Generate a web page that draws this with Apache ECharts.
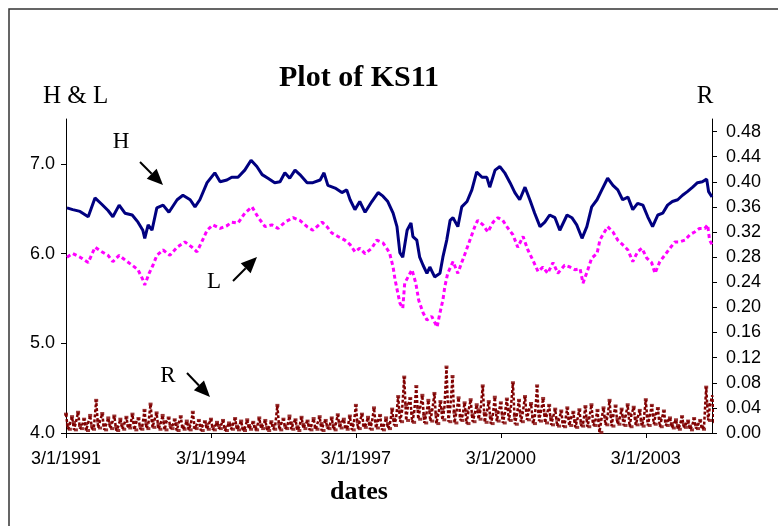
<!DOCTYPE html>
<html>
<head>
<meta charset="utf-8">
<script src="https://cdn.jsdelivr.net/npm/echarts@6/dist/echarts.min.js"></script>
<style>
html,body{margin:0;padding:0;background:#fff;}
#chart{width:778px;height:526px;}
</style>
</head>
<body>
<div id="chart"></div>
<script>
// x values: years since 3/1/1991
var xTickValues = [0, 3, 6, 9, 12];
var xTickLabels = ['3/1/1991', '3/1/1994', '3/1/1997', '3/1/2000', '3/1/2003'];
var leftTicks = [4, 5, 6, 7];
var rightTicks = [0, 0.04, 0.08, 0.12, 0.16, 0.20, 0.24, 0.28, 0.32, 0.36, 0.40, 0.44, 0.48];

var hTime = [0.02,0.14,0.29,0.46,0.60,0.74,0.87,0.97,1.10,1.22,1.37,1.49,1.59,1.63,1.70,1.78,1.88,2.01,2.13,2.30,2.42,2.57,2.67,2.77,2.92,3.08,3.19,3.33,3.43,3.56,3.70,3.83,3.95,4.06,4.18,4.32,4.43,4.53,4.63,4.74,4.84,4.99,5.11,5.26,5.34,5.42,5.57,5.71,5.81,5.88,5.98,6.08,6.19,6.33,6.46,6.56,6.66,6.70,6.77,6.85,6.91,6.97,7.06,7.14,7.18,7.26,7.32,7.39,7.47,7.53,7.63,7.74,7.80,7.88,7.95,8.01,8.11,8.19,8.30,8.40,8.50,8.61,8.71,8.77,8.88,8.98,9.08,9.19,9.29,9.39,9.50,9.60,9.70,9.81,9.91,10.01,10.12,10.22,10.37,10.47,10.57,10.68,10.78,10.88,10.99,11.09,11.21,11.32,11.42,11.52,11.63,11.73,11.83,11.94,12.04,12.14,12.25,12.35,12.45,12.55,12.66,12.76,12.86,12.97,13.07,13.17,13.26,13.30,13.37];
var hValues = [6.51,6.49,6.47,6.41,6.62,6.55,6.48,6.41,6.54,6.45,6.43,6.35,6.26,6.17,6.32,6.26,6.51,6.54,6.46,6.60,6.65,6.60,6.52,6.60,6.79,6.90,6.80,6.82,6.85,6.85,6.93,7.04,6.97,6.88,6.84,6.79,6.80,6.90,6.84,6.93,6.88,6.79,6.79,6.82,6.90,6.76,6.73,6.68,6.71,6.60,6.49,6.58,6.46,6.58,6.68,6.64,6.58,6.56,6.45,6.30,6.01,5.96,6.26,6.34,6.19,6.15,5.96,5.87,5.78,5.85,5.74,5.78,5.96,6.15,6.37,6.40,6.30,6.52,6.58,6.71,6.91,6.85,6.85,6.74,6.93,6.97,6.90,6.79,6.68,6.60,6.74,6.60,6.45,6.30,6.35,6.43,6.40,6.26,6.43,6.40,6.32,6.17,6.30,6.52,6.60,6.71,6.84,6.76,6.71,6.60,6.63,6.49,6.56,6.54,6.41,6.30,6.43,6.45,6.54,6.58,6.60,6.65,6.69,6.74,6.79,6.80,6.83,6.69,6.63];

var lTime = [0.02,0.14,0.29,0.46,0.60,0.74,0.87,0.97,1.10,1.22,1.37,1.49,1.59,1.63,1.72,1.80,1.88,2.01,2.15,2.30,2.46,2.61,2.71,2.81,2.92,3.04,3.19,3.33,3.43,3.56,3.70,3.85,3.97,4.12,4.26,4.39,4.53,4.70,4.84,4.99,5.11,5.30,5.40,5.50,5.63,5.77,5.88,5.98,6.08,6.19,6.33,6.43,6.56,6.66,6.70,6.77,6.81,6.91,6.97,7.01,7.08,7.16,7.24,7.30,7.39,7.47,7.57,7.68,7.74,7.80,7.84,7.90,8.01,8.11,8.19,8.26,8.36,8.46,8.52,8.63,8.73,8.84,8.94,9.04,9.15,9.25,9.35,9.46,9.56,9.66,9.77,9.87,9.97,10.08,10.18,10.32,10.43,10.53,10.64,10.70,10.80,10.88,10.99,11.05,11.11,11.21,11.32,11.42,11.52,11.63,11.73,11.83,11.92,12.02,12.12,12.19,12.29,12.39,12.50,12.60,12.70,12.81,12.91,13.01,13.11,13.22,13.28,13.32,13.37];
var lValues = [5.96,6.00,5.96,5.90,6.07,6.02,5.98,5.91,5.98,5.93,5.87,5.82,5.71,5.65,5.78,5.87,5.98,6.04,5.98,6.07,6.13,6.07,6.02,6.13,6.26,6.32,6.28,6.31,6.35,6.34,6.45,6.52,6.41,6.30,6.32,6.28,6.35,6.40,6.37,6.30,6.26,6.35,6.30,6.23,6.19,6.15,6.10,6.02,6.06,6.00,6.06,6.15,6.12,6.04,6.00,5.85,5.71,5.45,5.39,5.67,5.74,5.82,5.67,5.48,5.34,5.26,5.30,5.18,5.34,5.48,5.63,5.78,5.91,5.78,5.90,6.00,6.15,6.30,6.37,6.32,6.24,6.35,6.40,6.37,6.28,6.21,6.07,6.19,6.04,5.93,5.80,5.85,5.78,5.90,5.78,5.87,5.85,5.82,5.83,5.67,5.82,5.95,6.00,6.15,6.21,6.30,6.24,6.15,6.10,6.04,5.91,6.02,6.06,5.95,5.90,5.78,5.91,5.98,6.06,6.13,6.13,6.15,6.21,6.24,6.28,6.28,6.32,6.15,6.10];

// R: one column every 1/8 year; high, middle and low marks in each column
var rStep = 0.125;
var rHigh = [0.030,0.026,0.033,0.022,0.028,0.052,0.031,0.024,0.027,0.022,0.025,0.030,0.023,0.036,0.046,0.032,0.028,0.024,0.021,0.026,0.019,0.033,0.020,0.018,0.022,0.017,0.020,0.016,0.023,0.019,0.021,0.017,0.024,0.020,0.018,0.044,0.022,0.027,0.021,0.025,0.019,0.023,0.026,0.020,0.024,0.029,0.022,0.027,0.044,0.030,0.025,0.040,0.028,0.024,0.038,0.058,0.089,0.055,0.074,0.060,0.052,0.063,0.050,0.105,0.090,0.056,0.048,0.053,0.045,0.075,0.050,0.057,0.048,0.054,0.080,0.052,0.058,0.047,0.075,0.055,0.044,0.038,0.035,0.040,0.033,0.037,0.042,0.045,0.036,0.040,0.052,0.043,0.038,0.045,0.041,0.036,0.053,0.044,0.039,0.035,0.024,0.021,0.026,0.019,0.023,0.020,0.073,0.060];
var rMid = [0.014,0.017,0.012,0.015,0.011,0.019,0.013,0.016,0.010,0.014,0.012,0.017,0.011,0.015,0.020,0.014,0.018,0.012,0.015,0.010,0.013,0.009,0.012,0.014,0.010,0.012,0.009,0.013,0.011,0.008,0.012,0.010,0.013,0.009,0.012,0.015,0.011,0.016,0.010,0.014,0.012,0.009,0.015,0.011,0.013,0.017,0.010,0.014,0.018,0.013,0.016,0.019,0.012,0.015,0.022,0.035,0.045,0.032,0.040,0.028,0.036,0.030,0.038,0.042,0.033,0.027,0.035,0.029,0.037,0.031,0.026,0.034,0.030,0.038,0.028,0.033,0.036,0.027,0.034,0.030,0.025,0.022,0.018,0.024,0.020,0.016,0.023,0.019,0.021,0.025,0.028,0.022,0.026,0.030,0.024,0.020,0.027,0.029,0.023,0.019,0.015,0.012,0.014,0.011,0.013,0.010,0.045,0.030];
var rLow = [0.006,0.005,0.007,0.004,0.006,0.008,0.005,0.007,0.004,0.006,0.008,0.005,0.006,0.007,0.009,0.006,0.005,0.007,0.004,0.006,0.005,0.007,0.004,0.006,0.005,0.007,0.004,0.006,0.005,0.004,0.006,0.005,0.007,0.004,0.006,0.005,0.007,0.006,0.004,0.007,0.005,0.006,0.004,0.007,0.005,0.008,0.006,0.005,0.007,0.009,0.006,0.008,0.005,0.007,0.012,0.018,0.020,0.017,0.022,0.016,0.019,0.015,0.021,0.018,0.016,0.020,0.015,0.018,0.022,0.017,0.015,0.019,0.016,0.020,0.014,0.018,0.021,0.015,0.019,0.016,0.013,0.011,0.010,0.012,0.009,0.011,0.010,0.012,0.001,0.013,0.011,0.014,0.012,0.010,0.013,0.011,0.012,0.014,0.010,0.012,0.008,0.006,0.009,0.005,0.007,0.006,0.020,0.015];

function pairs(xs, ys) { return xs.map(function (x, i) { return [x, ys[i]]; }); }
var rScatter = [];
var rZig = [];
rHigh.forEach(function (h, i) {
  var t = i * rStep;
  rScatter.push([t, h], [t + 0.04, rMid[i]], [t + 0.08, rLow[i]]);
  rZig.push([t, h], [t + 0.04, rLow[i]], [t + 0.08, rMid[i]]);
});

var serif = '"Liberation Serif", "DejaVu Serif", serif';
var sans = '"Liberation Sans", Arial, sans-serif';

function arrow(x0, y0, x1, y1) {
  var dx = x1 - x0, dy = y1 - y0, len = Math.sqrt(dx * dx + dy * dy);
  var ux = dx / len, uy = dy / len, hl = 16, hw = 7;
  var bx = x1 - ux * hl, by = y1 - uy * hl;
  return [
    { type: 'line', shape: { x1: x0, y1: y0, x2: bx, y2: by }, style: { stroke: '#000', lineWidth: 2 } },
    { type: 'polygon', shape: { points: [[x1, y1], [bx - uy * hw, by + ux * hw], [bx + uy * hw, by - ux * hw]] }, style: { fill: '#000' } }
  ];
}

var chart = echarts.init(document.getElementById('chart'), null, { renderer: 'canvas' });
var graphics = [
  { type: 'rect', shape: { x: 9, y: 9, width: 800, height: 540 }, style: { fill: null, stroke: '#333', lineWidth: 1.5 }, z: 0 },
  { type: 'text', x: 359, y: 78, style: { text: 'Plot of KS11', font: 'bold 30px ' + serif, fill: '#000', textAlign: 'center', textVerticalAlign: 'middle' } },
  { type: 'text', x: 43, y: 96, style: { text: 'H & L', font: '25px ' + serif, fill: '#000', textAlign: 'left', textVerticalAlign: 'middle' } },
  { type: 'text', x: 705, y: 96, style: { text: 'R', font: '25px ' + serif, fill: '#000', textAlign: 'center', textVerticalAlign: 'middle' } },
  { type: 'text', x: 359, y: 492, style: { text: 'dates', font: 'bold 26px ' + serif, fill: '#000', textAlign: 'center', textVerticalAlign: 'middle' } },
  { type: 'text', x: 121, y: 142, style: { text: 'H', font: '23px ' + serif, fill: '#000', textAlign: 'center', textVerticalAlign: 'middle' } },
  { type: 'text', x: 214, y: 282, style: { text: 'L', font: '23px ' + serif, fill: '#000', textAlign: 'center', textVerticalAlign: 'middle' } },
  { type: 'text', x: 168, y: 376, style: { text: 'R', font: '23px ' + serif, fill: '#000', textAlign: 'center', textVerticalAlign: 'middle' } }
].concat(arrow(140, 162, 163, 185), arrow(233, 281, 257, 257), arrow(187, 373, 210, 397));

var axisLine = { show: true, lineStyle: { color: '#000', width: 1 } };
var option = {
  backgroundColor: '#fff',
  animation: false,
  grid: { left: 66, right: 66, top: 119, height: 314 },
  xAxis: {
    type: 'value', min: 0, max: 13.37, interval: 3,
    axisLine: axisLine,
    axisTick: { show: true, length: 5, inside: false, lineStyle: { color: '#000' }, customValues: xTickValues },
    axisLabel: { customValues: xTickValues, margin: 17, color: '#000', fontFamily: sans, fontSize: 18,
      formatter: function (v) { var i = xTickValues.indexOf(v); return i >= 0 ? xTickLabels[i] : ''; } },
    splitLine: { show: false }
  },
  yAxis: [
    { type: 'value', position: 'left', min: 4, max: 7.5, interval: 1,
      axisLine: axisLine,
      axisTick: { show: true, length: 5, inside: false, lineStyle: { color: '#000' }, customValues: leftTicks },
      axisLabel: { customValues: leftTicks, margin: 11, color: '#000', fontFamily: sans, fontSize: 18, formatter: function (v) { return v.toFixed(1); } },
      splitLine: { show: false } },
    { type: 'value', position: 'right', min: 0, max: 0.5, interval: 0.04,
      axisLine: axisLine,
      axisTick: { show: true, length: 5, inside: false, lineStyle: { color: '#000' }, customValues: rightTicks },
      axisLabel: { customValues: rightTicks, margin: 14, color: '#000', fontFamily: sans, fontSize: 18, formatter: function (v) { return v.toFixed(2); } },
      splitLine: { show: false } }
  ],
  graphic: graphics,
  series: [
    { name: 'R zig', type: 'line', yAxisIndex: 1, data: rZig, symbol: 'none', lineStyle: { color: '#800000', width: 2.5, type: [3, 2] }, z: 2 },
    { name: 'R', type: 'scatter', yAxisIndex: 1, data: rScatter, symbol: 'rect', symbolSize: [4, 3], itemStyle: { color: '#800000' }, z: 2 },
    { name: 'L', type: 'line', yAxisIndex: 0, data: pairs(lTime, lValues), symbol: 'none', lineStyle: { color: '#FF00FF', width: 3, type: [4, 3] }, z: 3 },
    { name: 'H', type: 'line', yAxisIndex: 0, data: pairs(hTime, hValues), symbol: 'none', lineStyle: { color: '#000080', width: 3 }, z: 4 }
  ]
};
chart.setOption(option);
</script>
</body>
</html>
